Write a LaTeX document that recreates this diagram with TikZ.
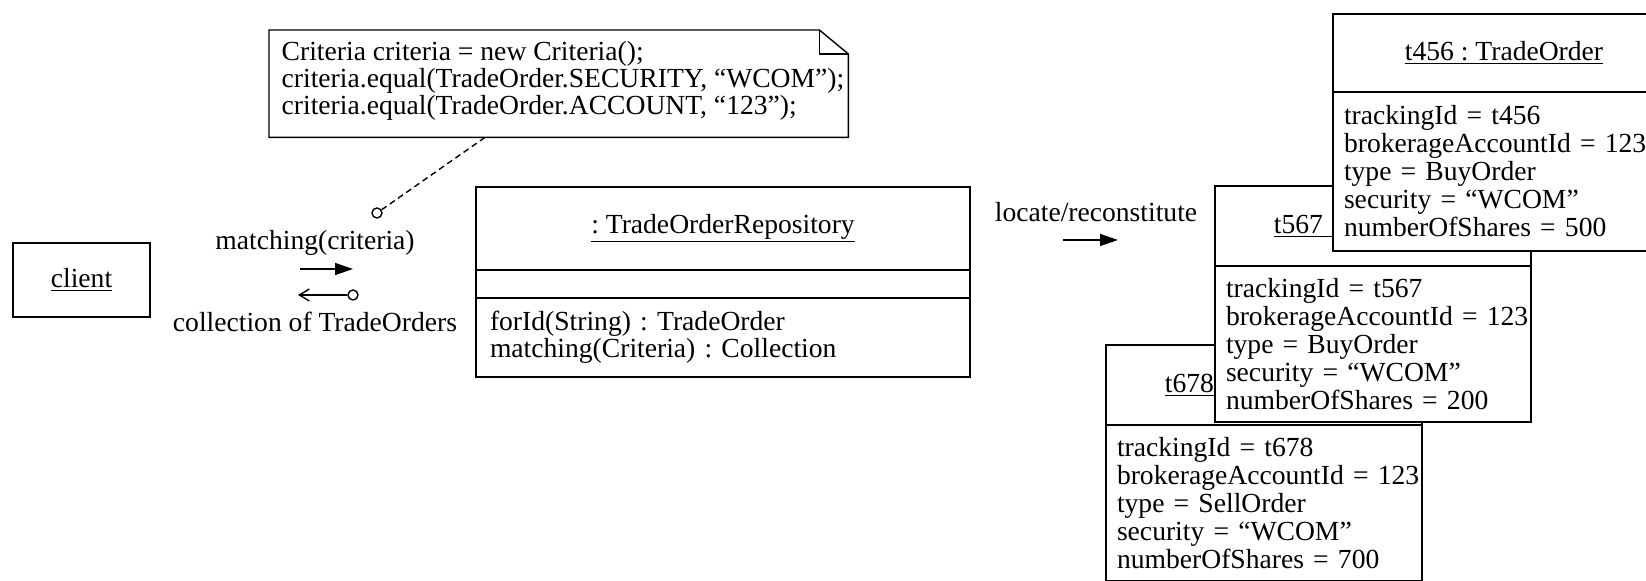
\documentclass[tikz,border=0pt]{standalone}
\usepackage{fontspec}
\setmainfont{Liberation Serif}
\usetikzlibrary{arrows.meta,positioning}
\frenchspacing

\begin{document}
\begin{tikzpicture}[
  x=0.5pt, y=-0.5pt, line width=0.7pt,
  node distance=0pt,
  txt/.style={font=\fontsize{13.8}{14}\selectfont, inner sep=0pt},
  box/.style={draw, fill=white, outer sep=0pt, txt},
  hdr/.style={box, minimum width=158pt, minimum height=40pt},
  attrs/.style={box, align=left, text width=147pt, inner xsep=5.5pt,
                minimum height=78pt},
  tok/.style={draw, circle, fill=white, inner sep=0pt, minimum size=5pt},
  msg/.style={-{Triangle[length=9pt, width=6pt]}},
  ret/.style={-{Straight Barb[length=5pt, width=6pt]}},
  pinline/.style={dash pattern=on 3pt off 2pt}]
  \useasboundingbox (0,0) rectangle (1646,581);

  \node[box, minimum width=68.5pt, minimum height=37pt] (client) at (81.5,280) {\underline{client}};

  \node[inner sep=0pt, minimum width=289pt, minimum height=53pt, anchor=north west] (note) at (269,30) {};
  \draw (note.north west) -- ([xshift=-14.5pt]note.north east) -- ([yshift=-12pt]note.north east)
    -- (note.south east) -- (note.south west) -- cycle;
  \draw ([xshift=-14.5pt]note.north east) |- ([yshift=-12pt]note.north east);
  \node[txt, align=left, font=\fontsize{13.8}{12.5}\selectfont, anchor=west] (notetext)
    at ([xshift=6pt, yshift=1.5pt]note.west)
    {Criteria criteria = new Criteria();\\
     criteria.equal(TradeOrder.SECURITY, “WCOM”);\\
     criteria.equal(TradeOrder.ACCOUNT, “123”);};

  \node[tok] (pin) at (377,213) {};
  \coordinate (notefoot) at (487,136);
  \draw[pinline] (pin) -- (notefoot);

  \node[txt] (callmsg) at (315,243) {matching(criteria)};
  \coordinate (calls) at (300,269);
  \coordinate (calle) at (353,269);
  \draw[msg] (calls) -- (calle);
  \node[tok] (rettok) at (353,295) {};
  \coordinate (rete) at (298,295);
  \draw[ret] (rettok) -- (rete);
  \node[txt] (retmsg) at (315,322) {collection of TradeOrders};

  \node[hdr, minimum width=247pt, minimum height=41.5pt, anchor=north west] (repo) at (476,187)
    {\underline{: TradeOrderRepository}};
  \node[box, minimum width=247pt, minimum height=14pt, below=of repo] (repoattr) {};
  \node[attrs, text width=233pt, inner xsep=7pt, minimum height=39.5pt,
        font=\fontsize{13.8}{13.5}\selectfont, below=of repoattr] (repoops)
    {forId(String) : TradeOrder\\matching(Criteria) : Collection};

  \node[txt] (locmsg) at (1096,212) {locate/reconstitute};
  \coordinate (locs) at (1063,240);
  \coordinate (loce) at (1118,240);
  \draw[msg] (locs) -- (loce);

  \node[hdr, anchor=north west] (t678) at (1106,345) {\underline{t678 : TradeOrder}};
  \node[attrs, below=of t678] (t678attr)
    {trackingId~=~t678\\brokerageAccountId~=~123\\type~=~SellOrder\\security~=~“WCOM”\\numberOfShares~=~700};

  \node[hdr, anchor=north west] (t567) at (1215,186) {\underline{t567 : TradeOrder}};
  \node[attrs, below=of t567] (t567attr)
    {trackingId~=~t567\\brokerageAccountId~=~123\\type~=~BuyOrder\\security~=~“WCOM”\\numberOfShares~=~200};

  \node[hdr, minimum width=171pt, minimum height=39pt, anchor=north west] (t456) at (1333,14) {\underline{t456 : TradeOrder}};
  \node[attrs, text width=160pt, minimum height=79.5pt, below=of t456] (t456attr)
    {trackingId~=~t456\\brokerageAccountId~=~123\\type~=~BuyOrder\\security~=~“WCOM”\\numberOfShares~=~500};
\end{tikzpicture}
\end{document}
